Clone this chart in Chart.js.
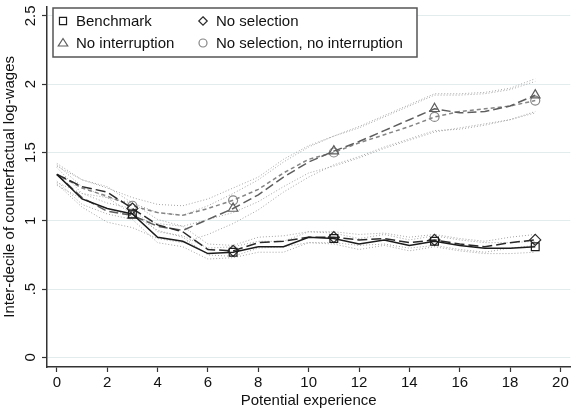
<!DOCTYPE html>
<html>
<head>
<meta charset="utf-8">
<script src="https://cdn.jsdelivr.net/npm/chart.js@4.4.1/dist/chart.umd.min.js"></script>
<style>
  html, body { margin: 0; padding: 0; background: #fff; }
  #wrap { width: 577px; height: 412px; }
</style>
</head>
<body>
<div id="wrap"><canvas id="chart" width="577" height="412"></canvas></div>
<script>
// potential experience (years) on the x axis
const experience = [0, 1, 2, 3, 4, 5, 6, 7, 8, 9, 10, 11, 12, 13, 14, 15, 16, 17, 18, 19];
const markerYears = [3, 7, 11, 15, 19];
const xTicks = [0, 2, 4, 6, 8, 10, 12, 14, 16, 18, 20];
const yTicks = [0, 0.5, 1, 1.5, 2, 2.5];

// inter-decile range of log-wages by scenario
const benchmark = [1.34, 1.16, 1.09, 1.05, 0.88, 0.85, 0.76, 0.77, 0.81, 0.81, 0.88, 0.87, 0.83, 0.86, 0.82, 0.85, 0.82, 0.80, 0.80, 0.81];
const noSelection = [1.34, 1.25, 1.21, 1.09, 0.97, 0.92, 0.79, 0.78, 0.84, 0.85, 0.88, 0.88, 0.86, 0.87, 0.84, 0.86, 0.83, 0.81, 0.84, 0.86];
const noInterruption = [1.34, 1.17, 1.07, 1.04, 0.96, 0.93, 1.01, 1.09, 1.19, 1.32, 1.43, 1.51, 1.58, 1.66, 1.74, 1.82, 1.79, 1.80, 1.84, 1.92];
const noSelNoInt = [1.34, 1.24, 1.18, 1.11, 1.06, 1.04, 1.09, 1.15, 1.23, 1.35, 1.45, 1.50, 1.57, 1.63, 1.69, 1.76, 1.80, 1.82, 1.84, 1.88];

// confidence bands (dotted)
const benchmarkHi = [1.39, 1.20, 1.13, 1.09, 0.92, 0.89, 0.80, 0.81, 0.85, 0.85, 0.92, 0.91, 0.87, 0.90, 0.86, 0.89, 0.86, 0.84, 0.84, 0.85];
const benchmarkLo = [1.29, 1.12, 1.05, 1.01, 0.84, 0.81, 0.72, 0.73, 0.77, 0.77, 0.84, 0.83, 0.79, 0.82, 0.78, 0.81, 0.78, 0.76, 0.76, 0.77];
const noSelectionHi = [1.40, 1.30, 1.25, 1.13, 1.01, 0.96, 0.83, 0.82, 0.88, 0.89, 0.92, 0.92, 0.90, 0.91, 0.88, 0.90, 0.87, 0.85, 0.88, 0.90];
const noSelectionLo = [1.28, 1.20, 1.17, 1.05, 0.93, 0.88, 0.75, 0.74, 0.80, 0.81, 0.84, 0.84, 0.82, 0.83, 0.80, 0.82, 0.79, 0.77, 0.80, 0.82];
const noInterruptionHi = [1.41, 1.25, 1.17, 1.13, 1.06, 1.04, 1.11, 1.20, 1.30, 1.43, 1.54, 1.62, 1.69, 1.77, 1.85, 1.93, 1.93, 1.94, 1.97, 2.04];
const noInterruptionLo = [1.27, 1.10, 0.99, 0.95, 0.87, 0.84, 0.90, 0.98, 1.08, 1.21, 1.32, 1.41, 1.47, 1.54, 1.60, 1.66, 1.67, 1.70, 1.74, 1.80];
const noSelNoIntHi = [1.42, 1.30, 1.24, 1.17, 1.12, 1.11, 1.16, 1.24, 1.32, 1.45, 1.55, 1.62, 1.68, 1.76, 1.84, 1.92, 1.92, 1.93, 1.96, 2.02];
const noSelNoIntLo = [1.26, 1.16, 1.09, 1.03, 0.98, 0.96, 1.01, 1.06, 1.14, 1.25, 1.35, 1.40, 1.46, 1.53, 1.59, 1.65, 1.68, 1.71, 1.74, 1.79];

const FONT = '"Liberation Sans", Arial, sans-serif';
Chart.defaults.font.family = FONT;
Chart.defaults.font.size = 15;
Chart.defaults.color = '#111';

function toPoints(values) {
    return values.map((v, i) => ({ x: experience[i], y: v }));
}

function markerRadius(r) {
    return ctx => markerYears.includes(experience[ctx.dataIndex]) ? r : 0;
}

function seriesDataset(label, values, color, dash, style, radius) {
    return {
        label: label,
        data: toPoints(values),
        borderColor: color,
        borderWidth: 1.5,
        borderDash: dash,
        pointStyle: style,
        pointRadius: markerRadius(radius),
        pointHoverRadius: 0,
        pointBorderColor: color,
        pointBorderWidth: 1.2,
        pointBackgroundColor: 'rgba(0,0,0,0)',
        tension: 0
    };
}

function bandDataset(values) {
    return {
        label: '',
        data: toPoints(values),
        borderColor: '#a4a4a4',
        borderWidth: 1,
        borderDash: [1, 2],
        pointRadius: 0,
        tension: 0
    };
}

function tickText(v) {
    return String(v).replace(/^0\./, '.');
}

// small hollow markers for the legend box
function drawMarker(ctx, style, x, y, r) {
    ctx.beginPath();
    if (style === 'rect') {
        const s = r * Math.SQRT1_2;
        ctx.rect(x - s, y - s, 2 * s, 2 * s);
    } else if (style === 'rectRot') {
        const s = r * Math.SQRT1_2 * 1.2;
        ctx.moveTo(x, y - s);
        ctx.lineTo(x + s, y);
        ctx.lineTo(x, y + s);
        ctx.lineTo(x - s, y);
        ctx.closePath();
    } else if (style === 'triangle') {
        const h = r * 1.5;
        ctx.moveTo(x, y - h * 0.6);
        ctx.lineTo(x + r * 0.95, y + h * 0.4);
        ctx.lineTo(x - r * 0.95, y + h * 0.4);
        ctx.closePath();
    } else {
        ctx.arc(x, y, r * 0.8, 0, Math.PI * 2);
    }
    ctx.stroke();
}

const legendBox = {
    id: 'legendBox',
    afterDraw(chart) {
        const ctx = chart.ctx;
        const left = 53, top = 8, width = 364, height = 49;
        ctx.save();
        ctx.fillStyle = '#fff';
        ctx.fillRect(left, top, width, height);
        ctx.strokeStyle = '#555';
        ctx.lineWidth = 1.5;
        ctx.strokeRect(left, top, width, height);
        ctx.font = '15px ' + FONT;
        ctx.textBaseline = 'middle';
        ctx.textAlign = 'left';
        chart.data.datasets.slice(0, 4).forEach((ds, i) => {
            const col = i % 2, row = Math.floor(i / 2);
            const mx = col === 0 ? 63 : 203;
            const my = row === 0 ? 21 : 43;
            ctx.strokeStyle = ds.pointBorderColor;
            ctx.lineWidth = 1.2;
            drawMarker(ctx, ds.pointStyle, mx, my, 5);
            ctx.fillStyle = '#111';
            ctx.fillText(ds.label, mx + 13, my + 1);
        });
        ctx.restore();
    }
};

// y tick labels, turned to read bottom-to-top
const yTickLabels = {
    id: 'yTickLabels',
    afterDraw(chart) {
        const ctx = chart.ctx;
        const y = chart.scales.y;
        ctx.save();
        ctx.font = '15px ' + FONT;
        ctx.fillStyle = '#111';
        ctx.textAlign = 'center';
        ctx.textBaseline = 'middle';
        y.ticks.forEach(t => {
            ctx.save();
            ctx.translate(31, y.getPixelForValue(t.value));
            ctx.rotate(-Math.PI / 2);
            ctx.fillText(tickText(t.value), 0, 0);
            ctx.restore();
        });
        ctx.restore();
    }
};

new Chart(document.getElementById('chart').getContext('2d'), {
    type: 'line',
    data: {
        datasets: [
            seriesDataset('Benchmark', benchmark, '#1c1c1c', [], 'rect', 5.5),
            seriesDataset('No selection', noSelection, '#2a2a2a', [10, 4], 'rectRot', 5.5),
            seriesDataset('No interruption', noInterruption, '#5e5e5e', [9, 4], 'triangle', 5.5),
            seriesDataset('No selection, no interruption', noSelNoInt, '#858585', [4, 3], 'circle', 4.5),
            bandDataset(benchmarkHi),
            bandDataset(benchmarkLo),
            bandDataset(noSelectionHi),
            bandDataset(noSelectionLo),
            bandDataset(noInterruptionHi),
            bandDataset(noInterruptionLo),
            bandDataset(noSelNoIntHi),
            bandDataset(noSelNoIntLo)
        ]
    },
    options: {
        responsive: false,
        devicePixelRatio: 1,
        animation: false,
        layout: { padding: { top: 2, right: 0, bottom: 0, left: 0 } },
        plugins: {
            legend: { display: false },
            tooltip: { enabled: false }
        },
        scales: {
            x: {
                type: 'linear',
                min: -0.392,
                max: 20.392,
                afterBuildTicks: axis => { axis.ticks = xTicks.map(v => ({ value: v })); },
                afterFit: axis => { axis.height = 45; },
                grid: { drawOnChartArea: false, tickLength: 5, tickColor: '#333', tickWidth: 1.2 },
                border: { color: '#333', width: 1.5 },
                ticks: { padding: 2, maxRotation: 0, color: '#111', font: { size: 15 } },
                title: { display: true, text: 'Potential experience', color: '#111', font: { size: 15 }, padding: { top: 0, bottom: 2 } }
            },
            y: {
                type: 'linear',
                min: -0.07,
                max: 2.567,
                afterBuildTicks: axis => { axis.ticks = yTicks.map(v => ({ value: v })); },
                afterFit: axis => { axis.width = 47; },
                grid: { color: '#e3eced', lineWidth: 1, tickLength: 5, tickColor: '#333', tickWidth: 1.2 },
                border: { color: '#333', width: 1.5 },
                ticks: { display: false },
                title: { display: true, text: 'Inter-decile of counterfactual log-wages', color: '#111', font: { size: 15 }, padding: { top: 1, bottom: 0 } }
            }
        }
    },
    plugins: [legendBox, yTickLabels]
});
</script>
</body>
</html>
